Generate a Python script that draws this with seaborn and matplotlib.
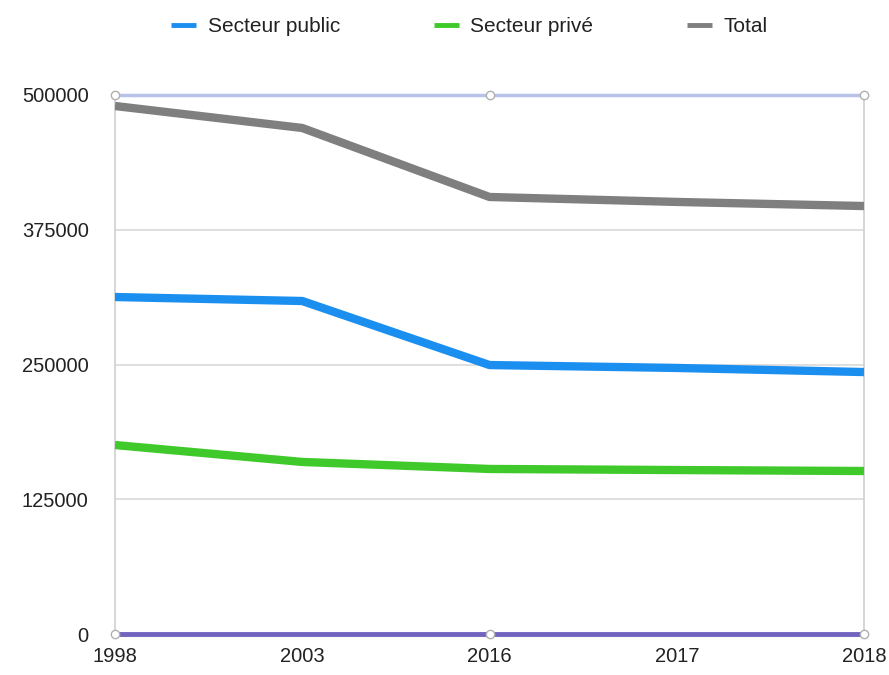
import seaborn as sns
import matplotlib.pyplot as plt
import pandas as pd

years = ["1998", "2003", "2016", "2017", "2018"]
public = [312600, 308900, 249500, 246800, 243000]
prive = [175300, 159600, 153100, 152100, 151200]
total = [489800, 469400, 405400, 400800, 397000]
y_ticks = [0, 125000, 250000, 375000, 500000]

df = pd.DataFrame({
    "annee": years * 3,
    "valeur": public + prive + total,
    "serie": ["Secteur public"] * 5 + ["Secteur privé"] * 5 + ["Total"] * 5,
})

sns.set_style("white")
plt.rcParams['font.family'] = ['Liberation Sans', 'DejaVu Sans']

fig = plt.figure(figsize=(8.89, 6.75), dpi=100)
ax = fig.add_axes([115 / 889, 1 - 634 / 675, (864 - 115) / 889, (634 - 95) / 675])

palette = {"Secteur public": "#1b8ff0", "Secteur privé": "#3fc92a", "Total": "#7f7f7f"}
sns.lineplot(data=df, x="annee", y="valeur", hue="serie", palette=palette,
             linewidth=6, ax=ax, sort=False, solid_joinstyle="round",
             solid_capstyle="butt", zorder=3)

ax.set_xlim(0, 4)
ax.set_ylim(0, 500000)
ax.set_yticks(y_ticks)
ax.set_yticklabels([str(v) for v in y_ticks])
ax.set_xlabel("")
ax.set_ylabel("")

# grille et lignes haut / bas
for v in y_ticks[1:-1]:
    ax.axhline(v, color="#d9d9d9", lw=1.2, zorder=1)
ax.axhline(500000, color="#b9c3ea", lw=2.5, zorder=2, clip_on=False)
ax.axhline(0, color="#7064bf", lw=3.5, zorder=2, clip_on=False)
for xi in [0, 2, 4]:
    ax.plot([xi, xi], [500000, 0], ls="none", marker="o", ms=6, mfc="white",
            mec="#b0b0b0", mew=1, clip_on=False, zorder=4)

for side in ["top", "bottom"]:
    ax.spines[side].set_visible(False)
for side in ["left", "right"]:
    ax.spines[side].set_color("#d0d0d0")
    ax.spines[side].set_linewidth(1.2)

ax.tick_params(axis="both", length=0, labelsize=14.5, colors="#222222")
ax.tick_params(axis="y", pad=19)
ax.tick_params(axis="x", pad=9)

leg = ax.legend(loc="center", bbox_to_anchor=(0.473, 1 + (95 - 27) / 539), ncol=3,
                frameon=False, fontsize=15, handlelength=1.2, columnspacing=4.5,
                handletextpad=0.55)
for line in leg.get_lines():
    line.set_linewidth(3.5)
for t in leg.get_texts():
    t.set_color("#222222")

fig.savefig("out.png", dpi=100)
